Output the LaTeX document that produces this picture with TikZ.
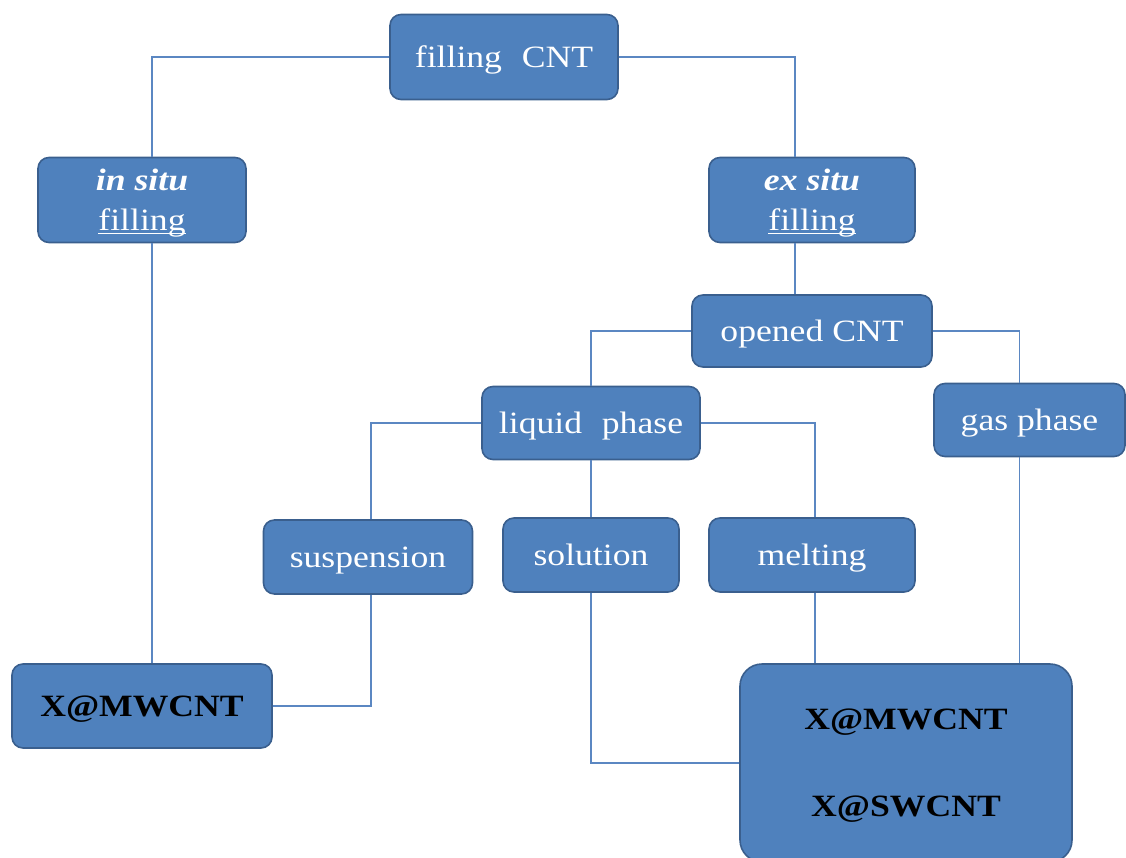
\documentclass[tikz,border=0pt]{standalone}
\usepackage{fontspec}
\setmainfont{Liberation Serif}[FakeStretch=1.15]
\usetikzlibrary{calc}
\definecolor{boxblue}{HTML}{4F81BD}
\definecolor{boxedge}{HTML}{3A5F8E}
\definecolor{linkblue}{HTML}{5B87C2}
\newcommand\myul[1]{\setbox0\hbox{#1}\rlap{\rule[-3pt]{\wd0}{1.1pt}}\box0}
\tikzset{
  box/.style={rectangle, rounded corners=11pt, fill=boxblue, draw=boxedge, line width=1.6pt,
    text=white, font=\fontsize{31}{38}\selectfont, inner sep=0pt, align=center, text depth=0pt},
  link/.style={draw=linkblue, line width=1.3pt},
}
\begin{document}
\begin{tikzpicture}[x=1pt,y=-1pt]
\useasboundingbox (0,0) rectangle (1126,858);
\node[box, minimum width=228, minimum height=85] (top) at (504,57) {filling\hspace{0.35em} CNT};
\node[box, minimum width=208, minimum height=85] (insitu) at (142,200) {\textbf{\textit{in situ}}\\[2pt]\myul{filling}};
\node[box, minimum width=206, minimum height=85] (exsitu) at (812,200) {\textbf{\textit{ex situ}}\\[2pt]\myul{filling}};
\node[box, minimum width=240, minimum height=72] (opened) at (812,331) {opened CNT};
\node[box, minimum width=218, minimum height=73] (liquid) at (591,423) {liquid\hspace{0.35em} phase};
\node[box, minimum width=191, minimum height=73] (gas) at (1029.5,420) {gas phase};
\node[box, minimum width=209, minimum height=74] (susp) at (368,557) {suspension};
\node[box, minimum width=176, minimum height=74] (sol) at (591,555) {solution};
\node[box, minimum width=206, minimum height=74] (melt) at (812,555) {melting};
\node[box, minimum width=260, minimum height=84, text=black] (xmw) at (142,706) {\textbf{X@MWCNT}};
\node[box, minimum width=332, minimum height=198, rounded corners=22pt, text=black] (big) at (906,763) {\textbf{X@MWCNT}\\[49pt]\textbf{X@SWCNT}};

\draw[link] (top.west) -| ([xshift=10]insitu.north);
\draw[link] (top.east) -| ([xshift=-17]exsitu.north);
\draw[link] ([xshift=10]insitu.south) -- ([xshift=10]xmw.north);
\draw[link] ([xshift=-17]exsitu.south) -- ([xshift=-17]opened.north);
\draw[link] (opened.west) -| (liquid.north);
\draw[link] (opened.east) -| ([xshift=-10]gas.north);
\draw[link] (liquid.west) -| ([xshift=3]susp.north);
\draw[link] (liquid.south) -- (sol.north);
\draw[link] (liquid.east) -| ([xshift=3]melt.north);
\draw[link] ([xshift=3]susp.south) |- (xmw.east);
\draw[link] (sol.south) |- (big.west);
\draw[link] ([xshift=3]melt.south) -- ([xshift=3]melt.south |- big.north);
\draw[link] ([xshift=-10]gas.south) -- ([xshift=-10]gas.south |- big.north);
\end{tikzpicture}
\end{document}
